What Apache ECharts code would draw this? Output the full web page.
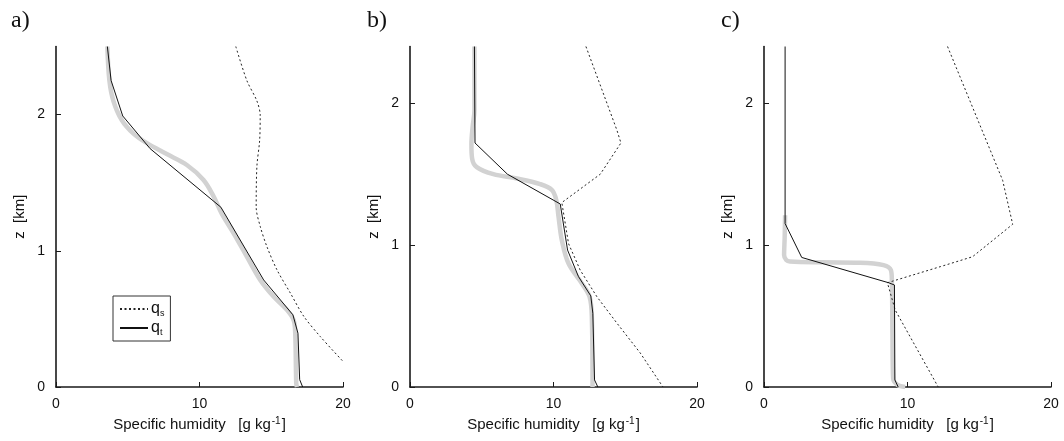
<!DOCTYPE html>
<html>
<head>
<meta charset="utf-8">
<script src="https://cdn.jsdelivr.net/npm/echarts@6/dist/echarts.min.js"></script>
<style>
html, body { margin: 0; padding: 0; background: #ffffff; }
#main { width: 1064px; height: 441px; }
</style>
</head>
<body>
<div id="main"></div>
<script>
// panel a
var aModX = [3.58, 3.72, 4.0, 4.58, 5.4, 6.33, 7.72, 9.12, 10.28, 10.98, 11.56, 12.37, 13.3, 14.23, 15.16, 16.09, 16.56, 16.67, 16.74, 16.79];
var aModZ = [2.5, 2.25, 2.1, 1.96, 1.86, 1.79, 1.71, 1.63, 1.52, 1.40, 1.27, 1.13, 0.957, 0.786, 0.664, 0.566, 0.49, 0.395, 0.03, 0];
var aQsX = [12.53, 13.3, 14.0, 14.23, 14.19, 14.0, 13.95, 14.23, 14.7, 15.4, 16.33, 17.26, 18.42, 20.0];
var aQsZ = [2.5, 2.25, 2.1, 1.995, 1.81, 1.62, 1.32, 1.18, 1.03, 0.86, 0.69, 0.52, 0.37, 0.188];
var aQtX = [3.58, 3.84, 4.65, 6.56, 11.49, 14.47, 16.51, 16.86, 16.98, 17.19];
var aQtZ = [2.5, 2.25, 1.99, 1.75, 1.32, 0.786, 0.53, 0.395, 0.054, 0];

// panel b
var bModX = [4.49, 4.49, 4.36, 4.28, 4.33, 4.65, 5.81, 7.44, 9.07, 9.88, 10.19, 10.35, 10.58, 11.05, 11.98, 12.51, 12.67, 12.72];
var bModZ = [2.4, 1.95, 1.83, 1.71, 1.61, 1.55, 1.50, 1.47, 1.43, 1.39, 1.32, 1.20, 1.035, 0.87, 0.73, 0.637, 0.50, 0];
var bQsX = [12.26, 14.42, 14.7, 13.26, 10.58, 11.05, 11.86, 13.02, 14.42, 16.05, 17.63];
var bQsZ = [2.4, 1.81, 1.72, 1.50, 1.30, 1.01, 0.824, 0.637, 0.45, 0.239, 0];
var bQtX = [4.49, 4.53, 6.79, 10.47, 10.98, 11.74, 12.6, 12.74, 12.86, 13.09];
var bQtZ = [2.4, 1.72, 1.50, 1.29, 0.965, 0.778, 0.642, 0.52, 0.05, 0];

// panel c
var cModX = [1.47, 1.44, 1.40, 1.55, 1.81, 4.0, 6.7, 8.33, 8.84, 8.91, 8.95, 9.0, 9.3, 9.84];
var cModZ = [1.21, 1.05, 0.93, 0.895, 0.885, 0.879, 0.876, 0.859, 0.824, 0.754, 0.38, 0.06, 0.015, 0];
var cQsX = [12.79, 16.63, 17.33, 14.53, 12.28, 8.6, 9.14, 12.14];
var cQsZ = [2.4, 1.457, 1.147, 0.918, 0.848, 0.735, 0.543, 0];
var cQtX = [1.47, 1.47, 2.63, 8.68, 9.09, 9.12, 9.35];
var cQtZ = [2.4, 1.152, 0.913, 0.735, 0.719, 0.05, 0];

var xTicks = [0, 10, 20];
var zTicks = [0, 1, 2];
var zMax = [2.5, 2.4, 2.4];
var panelNames = ['a)', 'b)', 'c)'];

function zip(xs, zs) {
  var out = [];
  for (var i = 0; i < xs.length; i++) out.push([xs[i], zs[i]]);
  return out;
}

var panels = [
  { mod: zip(aModX, aModZ), qs: zip(aQsX, aQsZ), qt: zip(aQtX, aQtZ), left: 56 },
  { mod: zip(bModX, bModZ), qs: zip(bQsX, bQsZ), qt: zip(bQtX, bQtZ), left: 410 },
  { mod: zip(cModX, cModZ), qs: zip(cQsX, cQsZ), qt: zip(cQtX, cQtZ), left: 764 }
];

var font = 'Liberation Sans, Arial, sans-serif';
var axisColor = '#1a1a1a';

var grids = [], xAxes = [], yAxes = [], series = [], titles = [];
panels.forEach(function (p, i) {
  grids.push({ left: p.left, top: 46.5, width: 287, height: 340.5 });
  xAxes.push({
    gridIndex: i, type: 'value', min: 0, max: 20, interval: 10,
    name: '{n|Specific humidity   [g kg}{p|-1}{n|]}',
    nameLocation: 'middle', nameGap: 10,
    nameTextStyle: {
      rich: {
        n: { fontFamily: font, fontSize: 15, color: '#111', lineHeight: 17 },
        p: { fontFamily: font, fontSize: 10, color: '#111', verticalAlign: 'top', lineHeight: 17, padding: [0, 1, 8, 1] }
      }
    },
    axisLine: { show: true, onZero: false, lineStyle: { color: axisColor, width: 1.6 } },
    axisTick: { show: true, inside: true, length: 5, lineStyle: { color: axisColor, width: 1 }, customValues: xTicks },
    axisLabel: { margin: 10, fontFamily: font, fontSize: 14, color: '#111', customValues: xTicks },
    splitLine: { show: false }
  });
  yAxes.push({
    gridIndex: i, type: 'value', min: 0, max: zMax[i], interval: 1,
    name: 'z  [km]', nameLocation: 'middle', nameGap: 29,
    nameTextStyle: { fontFamily: font, fontSize: 15, color: '#111' },
    axisLine: { show: true, onZero: false, lineStyle: { color: axisColor, width: 1.6 } },
    axisTick: { show: true, inside: true, length: 5, lineStyle: { color: axisColor, width: 1 }, customValues: zTicks },
    axisLabel: { margin: 11, fontFamily: font, fontSize: 14, color: '#111', customValues: zTicks },
    splitLine: { show: false }
  });
  series.push({
    name: 'model', type: 'line', xAxisIndex: i, yAxisIndex: i, data: p.mod,
    symbol: 'none', smooth: 0.35, silent: true, z: 1,
    itemStyle: { color: '#d2d2d2' },
    lineStyle: { color: '#d2d2d2', width: 4.5 }
  });
  series.push({
    name: 'qs', type: 'line', xAxisIndex: i, yAxisIndex: i, data: p.qs,
    symbol: 'none', smooth: i === 0 ? 0.3 : false, z: 2,
    itemStyle: { color: '#222' },
    lineStyle: { color: '#222', width: 1, type: [2, 2.5] }
  });
  series.push({
    name: 'qt', type: 'line', xAxisIndex: i, yAxisIndex: i, data: p.qt,
    symbol: 'none', z: 3,
    itemStyle: { color: '#111' },
    lineStyle: { color: '#111', width: 1 }
  });
  titles.push({
    text: panelNames[i], left: [6, 362, 716][i], top: 4,
    textStyle: { fontFamily: 'Liberation Serif, Times New Roman, serif', fontSize: 24, fontWeight: 'normal', color: '#111' }
  });
});

var chart = echarts.init(document.getElementById('main'));
chart.setOption({
  backgroundColor: '#ffffff',
  animation: false,
  title: titles,
  legend: {
    data: ['qs', 'qt'],
    orient: 'vertical', left: 113, top: 296,
    padding: [5, 6, 4, 6], itemGap: 2, itemWidth: 28, itemHeight: 12,
    borderColor: '#333', borderWidth: 1,
    selectedMode: false,
    itemStyle: { opacity: 0 },
    formatter: function (name) {
      return name === 'qs' ? '{b|q}{s|s}' : '{b|q}{s|t}';
    },
    textStyle: {
      padding: [0, 0, 0, -2],
      rich: {
        b: { fontFamily: font, fontSize: 16, color: '#111', lineHeight: 18 },
        s: { fontFamily: font, fontSize: 9, color: '#111', verticalAlign: 'bottom', lineHeight: 13 }
      }
    }
  },
  grid: grids,
  xAxis: xAxes,
  yAxis: yAxes,
  series: series
});
</script>
</body>
</html>
